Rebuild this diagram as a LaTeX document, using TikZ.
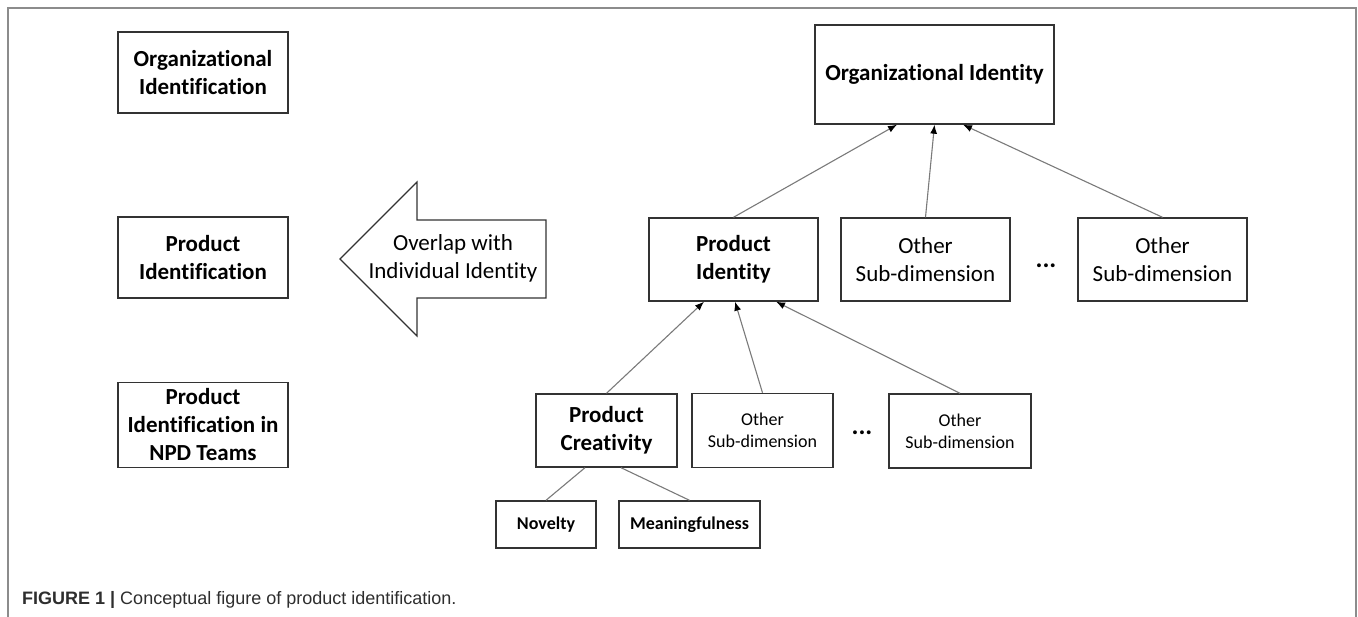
\documentclass[tikz,border=0pt]{standalone}
\usepackage{fontspec}
\setmainfont[Ligatures=NoCommon]{Carlito}
\newfontfamily\capfont{Liberation Sans}
\usepackage{tikz}
\usetikzlibrary{positioning}
\usetikzlibrary{arrows.meta}
\definecolor{framegray}{HTML}{8C8C8C}
\definecolor{linegray}{HTML}{7A7A7A}
\definecolor{capgray}{HTML}{2E2E2E}
\tikzset{box/.style={draw=black!80, line width=1.4pt, align=center, inner sep=0pt, font=\fontsize{23}{28}\selectfont}}
\tikzset{bbox/.style={box, font=\fontsize{23}{28}\selectfont\bfseries}}
\tikzset{sbox/.style={box, font=\fontsize{18}{22}\selectfont}}
\tikzset{sbbox/.style={box, font=\fontsize{18}{22}\selectfont\bfseries}}
\tikzset{link/.style={draw=linegray, line width=1.1pt, -{Latex[length=9pt,width=7pt,color=black]}}}
\tikzset{tie/.style={draw=linegray, line width=1.1pt}}
\tikzset{dots/.style={font=\fontsize{26}{28}\selectfont\bfseries, inner sep=0pt}}

\begin{document}
\begin{tikzpicture}[x=1pt,y=-1pt]
\useasboundingbox (0,0) rectangle (1358,617);
\draw[framegray, line width=2pt] (8,617) -- (8,8) -- (1356,8) -- (1356,617);
%left column
\node[bbox, minimum width=170pt, minimum height=81pt] (oid) at (203,72.5) {Organizational\\Identification};
\node[bbox, minimum width=170pt, minimum height=81pt] (pid) at (203,257.5) {Product\\Identification};
\node[bbox, minimum width=170pt, minimum height=85pt] (npd) at (203,425) {Product\\Identification in\\NPD Teams};
%big arrow
\draw[line width=1.2pt, black!80] (340,259) -- (417,182) -- (417,220) -- (546,220) -- (546,298) -- (417,298) -- (417,336) -- cycle;
\node[font=\fontsize{23}{28}\selectfont, align=center] (ovl) at (453,258.5) {Overlap with\\Individual Identity};
%top level
\node[bbox, minimum width=239pt, minimum height=99pt] (oi) at (934.5,74.5) {Organizational Identity};
\node[bbox, minimum width=169pt, minimum height=83pt] (pi) at (733.5,259.5) {Product\\Identity};
\node[box, minimum width=169pt, minimum height=83pt] (s1) at (925.5,259.5) {Other\\Sub-dimension};
\node[dots, anchor=base] (d1) at (1046,268) {...};
\node[box, minimum width=169pt, minimum height=83pt] (s2) at (1162.5,259.5) {Other\\Sub-dimension};
\draw[link] (pi.north) -- ([xshift=-37.5pt]oi.south);
\draw[link] (s1.north) -- (oi.south);
\draw[link] (s2.north) -- ([xshift=28.5pt]oi.south);
%bottom level
\node[bbox, minimum width=141pt, minimum height=73pt] (pc) at (606.5,430.5) {Product\\Creativity};
\node[sbox, minimum width=141pt, minimum height=74pt] (t1) at (762.5,430.5) {Other\\Sub-dimension};
\node[dots, anchor=base] (d2) at (862,435) {...};
\node[sbox, minimum width=142pt, minimum height=74pt] (t2) at (960,431) {Other\\Sub-dimension};
\draw[link] (pc.north) -- ([xshift=-29.5pt]pi.south);
\draw[link] (t1.north) -- ([xshift=1.5pt]pi.south);
\draw[link] (t2.north) -- ([xshift=42.5pt]pi.south);
\node[sbbox, minimum width=100pt, minimum height=47pt] (nov) at (546,524.5) {Novelty};
\node[sbbox, minimum width=141pt, minimum height=47pt] (mea) at (689.5,524.5) {Meaningfulness};
\draw[tie] ([xshift=-21.5pt]pc.south) -- (nov.north);
\draw[tie] ([xshift=14.5pt]pc.south) -- (mea.north);
%caption
\node[anchor=base west, inner sep=0pt, text=capgray, font=\capfont\fontsize{18}{22}\selectfont] (cap) at (22,604) {\textbf{FIGURE 1 |} Conceptual figure of product identification.};
\end{tikzpicture}
\end{document}
